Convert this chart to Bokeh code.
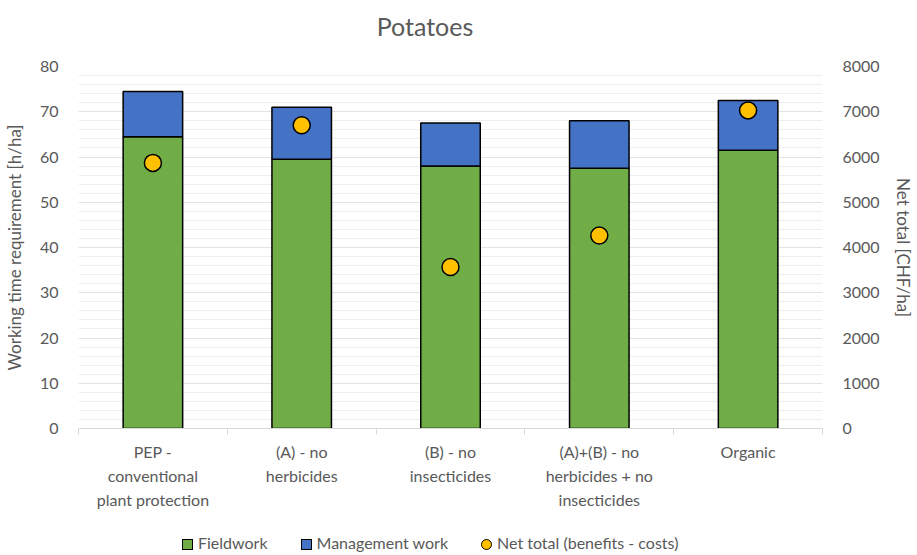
from bokeh.plotting import figure
from bokeh.layouts import column
from bokeh.models import (ColumnDataSource, Range1d, LinearAxis, FixedTicker,
                          SingleIntervalTicker, Div)
from bokeh.embed import file_html
from bokeh.resources import INLINE

title_text = "Potatoes"
label_line1 = ["PEP -", "(A) - no", "(B) - no", "(A)+(B) - no", "Organic"]
label_line2 = ["conventional", "herbicides", "insecticides", "herbicides + no", ""]
label_line3 = ["plant protection", "", "", "insecticides", ""]
series_names = ["Fieldwork", "Management work", "Net total (benefits - costs)"]
series_colors = ["#70AD47", "#4472C4", "#FFC000"]
fieldwork = [64.5, 59.5, 58.0, 57.5, 61.5]
management = [10.0, 11.5, 9.5, 10.5, 11.0]
net_total = [5870, 6700, 3570, 4265, 7030]

x = list(range(len(label_line1)))
top_total = [f + m for f, m in zip(fieldwork, management)]
src = ColumnDataSource(dict(x=x, field=fieldwork, total=top_total, net=net_total,
                            zero=[0] * len(x)))

FONT = "Lato"
GREY = "#595959"

title_div = Div(text=('<div style="font-family: Lato; font-size: 25px; color: #595959; '
                      'text-align: center; width: 850px; padding-top: 11px; '
                      'line-height: 30px;">%s</div>' % title_text),
                width=917, height=44, margin=(0, 0, 0, 0))

p = figure(frame_width=744, frame_height=362, output_backend="svg", toolbar_location=None,
           x_range=Range1d(-0.5, 4.5), y_range=Range1d(0, 80),
           min_border_left=10, min_border_right=10, min_border_top=22, min_border_bottom=0,
           margin=(0, 0, 0, 0))
p.outline_line_color = None

p.extra_y_ranges = {"net": Range1d(0, 8000)}

r1 = p.vbar(x="x", bottom="zero", top="field", width=0.4, source=src,
            fill_color=series_colors[0], line_color="black", line_width=1.5)
r2 = p.vbar(x="x", bottom="field", top="total", width=0.4, source=src,
            fill_color=series_colors[1], line_color="black", line_width=1.5)
r3 = p.scatter(x="x", y="net", y_range_name="net", source=src, size=17,
               fill_color=series_colors[2], line_color="black", line_width=1.5)


def style_x(axis, labels, standoff):
    axis.ticker = FixedTicker(ticks=x)
    axis.major_label_overrides = {i: s for i, s in enumerate(labels)}
    axis.major_tick_line_color = None
    axis.major_tick_out = 0
    axis.major_tick_in = 0
    axis.minor_tick_line_color = None
    axis.minor_tick_out = 0
    axis.minor_tick_in = 0
    axis.axis_line_color = None
    axis.major_label_text_font = FONT
    axis.major_label_text_font_size = "16px"
    axis.major_label_text_color = GREY
    axis.major_label_standoff = standoff


# x axis (first line of category labels, axis line and boundary ticks)
xa = p.xaxis[0]
style_x(xa, label_line1, 7)
xa.ticker = FixedTicker(ticks=x, minor_ticks=[i - 0.5 for i in range(len(x) + 1)])
xa.axis_line_color = "#d9d9d9"
xa.minor_tick_line_color = "#d9d9d9"
xa.minor_tick_out = 6

xa2 = LinearAxis()
style_x(xa2, label_line2, 2)
p.add_layout(xa2, "below")
xa3 = LinearAxis()
style_x(xa3, label_line3, 2)
p.add_layout(xa3, "below")

# left y axis
ya = p.yaxis[0]
ya.ticker = SingleIntervalTicker(interval=10, num_minor_ticks=5)
ya.axis_label = "Working time requirement [h/ha]"
ya.axis_line_color = None
ya.major_tick_line_color = None
ya.minor_tick_line_color = None
ya.major_label_text_font = FONT
ya.major_label_text_font_size = "16px"
ya.major_label_text_color = GREY
ya.axis_label_text_font = FONT
ya.axis_label_text_font_size = "17px"
ya.axis_label_text_font_style = "normal"
ya.axis_label_text_color = GREY
ya.major_label_standoff = 14
ya.axis_label_standoff = 12

# right y axis
ra = LinearAxis(y_range_name="net", ticker=SingleIntervalTicker(interval=1000),
                axis_label="Net total [CHF/ha]")
ra.axis_line_color = None
ra.major_tick_line_color = None
ra.minor_tick_line_color = None
ra.major_label_text_font = FONT
ra.major_label_text_font_size = "16px"
ra.major_label_text_color = GREY
ra.axis_label_text_font = FONT
ra.axis_label_text_font_size = "17px"
ra.axis_label_text_font_style = "normal"
ra.axis_label_text_color = GREY
ra.major_label_standoff = 14
ra.axis_label_standoff = 10
p.add_layout(ra, "right")

p.xgrid.grid_line_color = None
p.ygrid.ticker = SingleIntervalTicker(interval=10, num_minor_ticks=5)
p.ygrid.grid_line_color = "#e3e3e3"
p.ygrid.minor_grid_line_color = "#eeeeee"

# legend row (HTML, below the chart)
shapes = ["", "", "border-radius: 50%;"]
items_html = ""
for name, col, shp in zip(series_names, series_colors, shapes):
    items_html += ('<span style="display:inline-block; width:11px; height:11px; '
                   'background:%s; border:1.5px solid #000; %s vertical-align:-1px; '
                   'margin-right:5px;"></span><span style="margin-right:33px;">%s</span>'
                   % (col, shp, name))
legend_div = Div(text=('<div style="font-family: Lato; font-size: 16px; color: #595959; '
                       'white-space: nowrap; padding-left: 182px; padding-top: 22px; '
                       'line-height: 20px;">%s</div>' % items_html),
                 width=917, height=42, margin=(0, 0, 0, 0))

layout = column(title_div, p, legend_div, spacing=0)
open("out.html", "w").write(file_html(layout, INLINE))
